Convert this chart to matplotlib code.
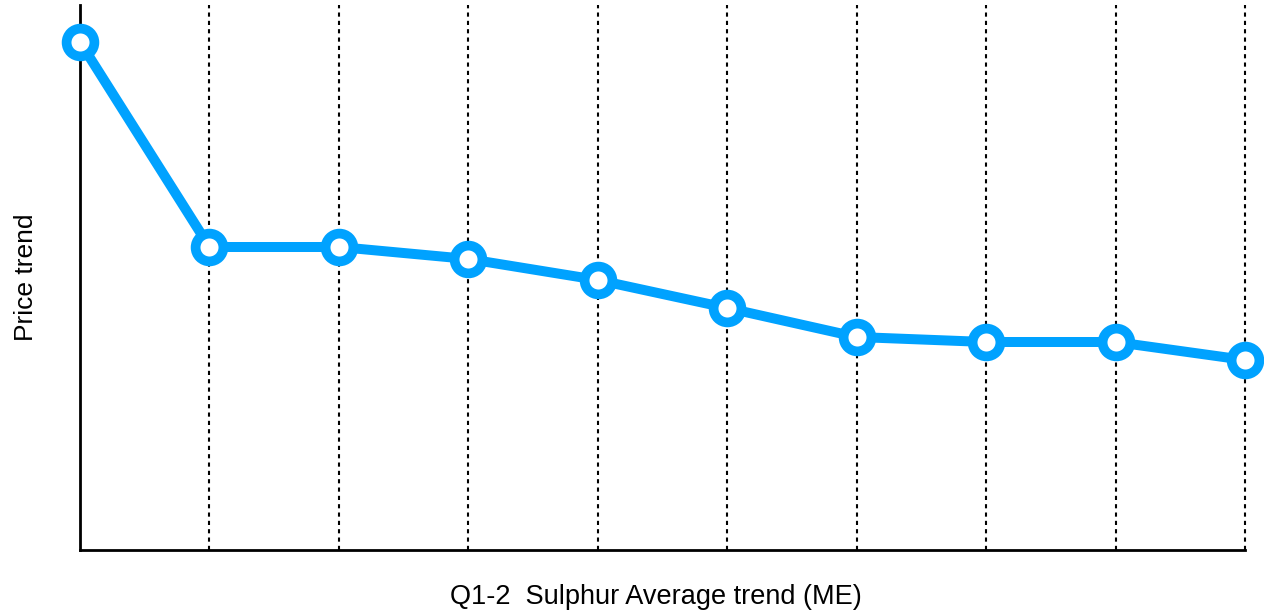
import matplotlib.pyplot as plt

plt.rcParams['font.family'] = ['Liberation Sans', 'DejaVu Sans']

periods = list(range(10))
price = [508, 303, 303, 291, 270, 242, 213, 208, 208, 190]

fig = plt.figure(figsize=(12.64, 6.14), dpi=100)
ax = fig.add_axes([80 / 1264, 64 / 614, 1165 / 1264, 545 / 614])

# dashed guides at every period after the first
for p in periods[1:]:
    ax.axvline(p, color='black', linestyle=(0, (2, 2)), linewidth=1.5,
               zorder=1, clip_on=False)

ax.plot(periods, price, color='#00a2ff', linewidth=7.2,
        marker='o', markersize=20, markerfacecolor='white',
        markeredgecolor='#00a2ff', markeredgewidth=7, zorder=3,
        clip_on=False)

ax.set_xlim(0, 9)
ax.set_ylim(0, 545)
ax.set_xticks([])
ax.set_yticks([])
for side in ['top', 'right']:
    ax.spines[side].set_visible(False)
for side in ['left', 'bottom']:
    ax.spines[side].set_linewidth(2)
    ax.spines[side].set_zorder(2)

ax.set_xlabel('Q1-2  Sulphur Average trend (ME)', fontsize=19.5)
ax.xaxis.set_label_coords(0.494, -0.062)
ax.set_ylabel('Price trend', fontsize=19, labelpad=30)

fig.savefig('out.png', dpi=100)
